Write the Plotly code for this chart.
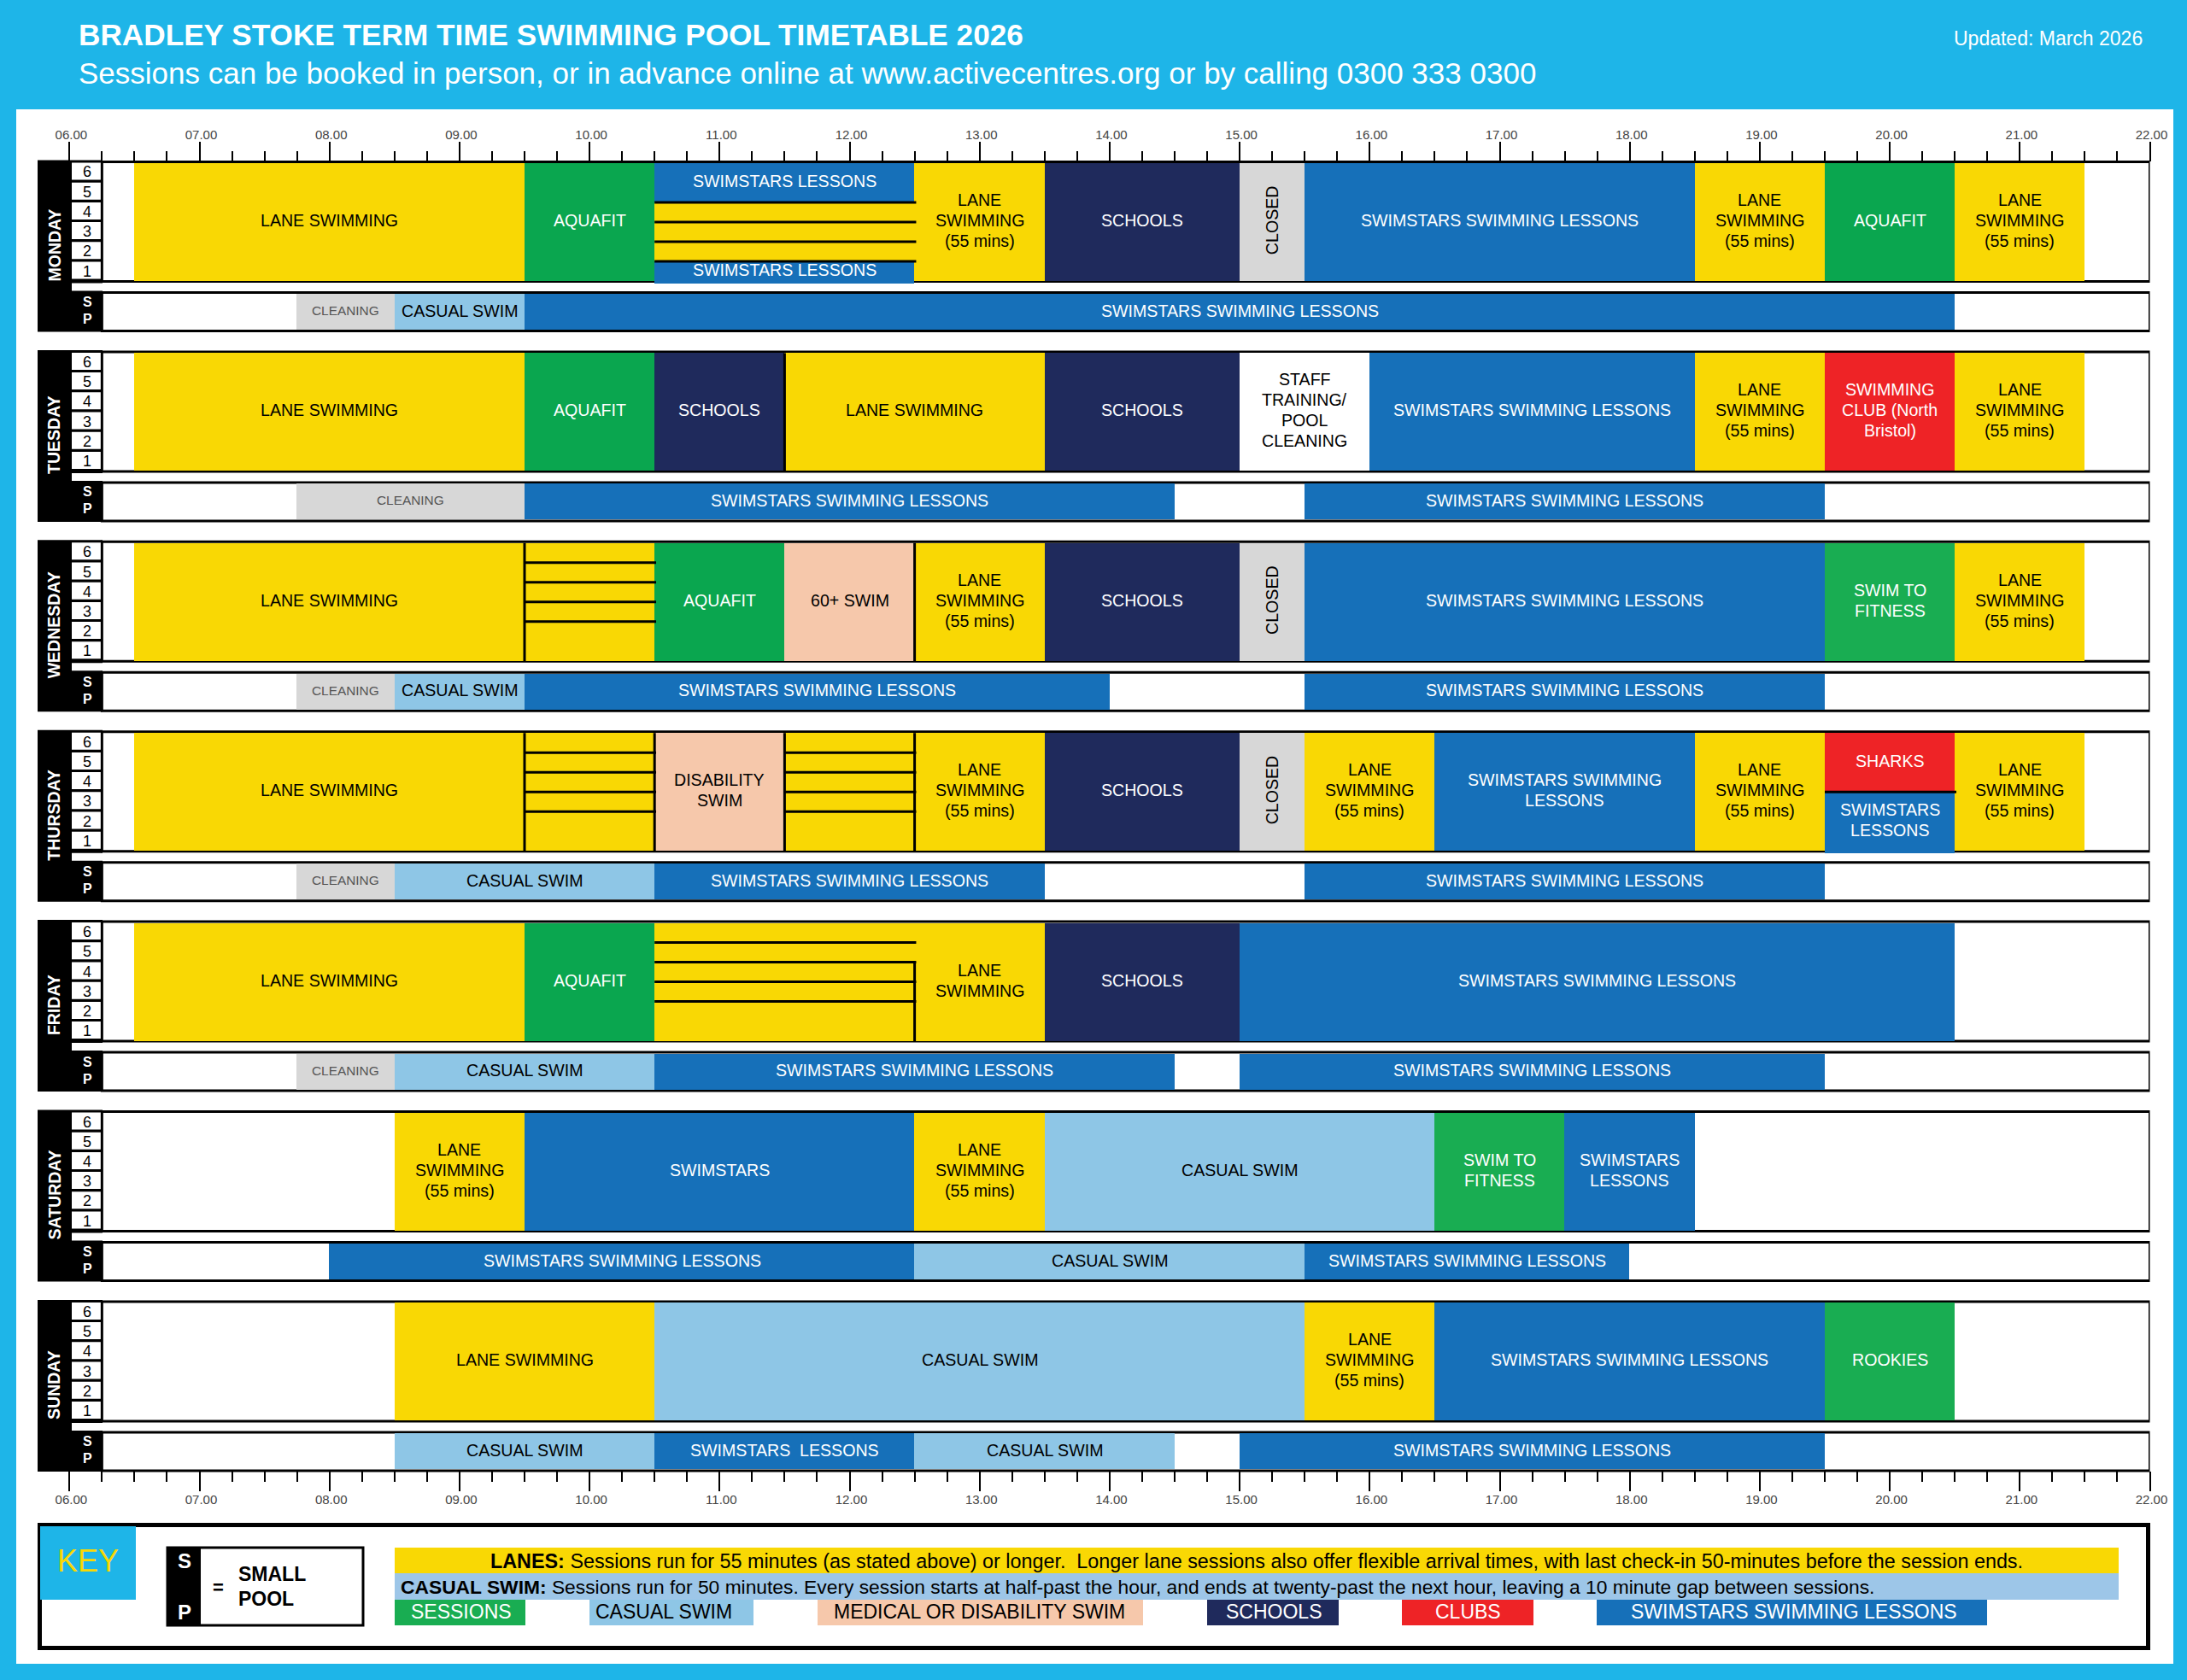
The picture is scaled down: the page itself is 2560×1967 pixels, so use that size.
"""Bradley Stoke term time swimming pool timetable, drawn with Plotly."""
from plotly.graph_objects import Bar, Figure

FONT = "Liberation Sans"

# ---- data : (start hour, end hour, kind, label, [first lane, last lane])
MON_MAIN = [
    (6.5, 9.5, "lane", "LANE SWIMMING"),
    (9.5, 10.5, "aqua", "AQUAFIT"),
    (10.5, 12.5, "lessons", "SWIMSTARS LESSONS", 6, 5),
    (10.5, 12.5, "lane", "", 4, 2),
    (10.5, 12.5, "lessons", "SWIMSTARS LESSONS", 1, 1),
    (12.5, 13.5, "lane", "LANE<br>SWIMMING<br>(55 mins)"),
    (13.5, 15, "schools", "SCHOOLS"),
    (15, 15.5, "closed", "CLOSED"),
    (15.5, 18.5, "lessons", "SWIMSTARS SWIMMING LESSONS"),
    (18.5, 19.5, "lane", "LANE<br>SWIMMING<br>(55 mins)"),
    (19.5, 20.5, "aqua", "AQUAFIT"),
    (20.5, 21.5, "lane", "LANE<br>SWIMMING<br>(55 mins)"),
]
MON_SMALL = [
    (7.75, 8.5, "closed", "CLEANING"),
    (8.5, 9.5, "casual", "CASUAL SWIM"),
    (9.5, 20.5, "lessons", "SWIMSTARS SWIMMING LESSONS"),
]
TUE_MAIN = [
    (6.5, 9.5, "lane", "LANE SWIMMING"),
    (9.5, 10.5, "aqua", "AQUAFIT"),
    (10.5, 11.5, "schools", "SCHOOLS"),
    (11.5, 13.5, "lane", "LANE SWIMMING"),
    (13.5, 15, "schools", "SCHOOLS"),
    (15, 16, "blank", "STAFF<br>TRAINING/<br>POOL<br>CLEANING"),
    (16, 18.5, "lessons", "SWIMSTARS SWIMMING LESSONS"),
    (18.5, 19.5, "lane", "LANE<br>SWIMMING<br>(55 mins)"),
    (19.5, 20.5, "clubs", "SWIMMING<br>CLUB (North<br>Bristol)"),
    (20.5, 21.5, "lane", "LANE<br>SWIMMING<br>(55 mins)"),
]
TUE_SMALL = [
    (7.75, 9.5, "closed", "CLEANING"),
    (9.5, 14.5, "lessons", "SWIMSTARS SWIMMING LESSONS"),
    (15.5, 19.5, "lessons", "SWIMSTARS SWIMMING LESSONS"),
]
WED_MAIN = [
    (6.5, 9.5, "lane", "LANE SWIMMING"),
    (9.5, 10.5, "lane", ""),
    (10.5, 11.5, "aqua", "AQUAFIT"),
    (11.5, 12.5, "medical", "60+ SWIM"),
    (12.5, 13.5, "lane", "LANE<br>SWIMMING<br>(55 mins)"),
    (13.5, 15, "schools", "SCHOOLS"),
    (15, 15.5, "closed", "CLOSED"),
    (15.5, 19.5, "lessons", "SWIMSTARS SWIMMING LESSONS"),
    (19.5, 20.5, "sessions", "SWIM TO<br>FITNESS"),
    (20.5, 21.5, "lane", "LANE<br>SWIMMING<br>(55 mins)"),
]
WED_SMALL = [
    (7.75, 8.5, "closed", "CLEANING"),
    (8.5, 9.5, "casual", "CASUAL SWIM"),
    (9.5, 14, "lessons", "SWIMSTARS SWIMMING LESSONS"),
    (15.5, 19.5, "lessons", "SWIMSTARS SWIMMING LESSONS"),
]
THU_MAIN = [
    (6.5, 9.5, "lane", "LANE SWIMMING"),
    (9.5, 10.5, "lane", ""),
    (10.5, 11.5, "medical", "DISABILITY<br>SWIM"),
    (11.5, 12.5, "lane", ""),
    (12.5, 13.5, "lane", "LANE<br>SWIMMING<br>(55 mins)"),
    (13.5, 15, "schools", "SCHOOLS"),
    (15, 15.5, "closed", "CLOSED"),
    (15.5, 16.5, "lane", "LANE<br>SWIMMING<br>(55 mins)"),
    (16.5, 18.5, "lessons", "SWIMSTARS SWIMMING<br>LESSONS"),
    (18.5, 19.5, "lane", "LANE<br>SWIMMING<br>(55 mins)"),
    (19.5, 20.5, "clubs", "SHARKS", 6, 4),
    (19.5, 20.5, "lessons", "SWIMSTARS<br>LESSONS", 3, 1),
    (20.5, 21.5, "lane", "LANE<br>SWIMMING<br>(55 mins)"),
]
THU_SMALL = [
    (7.75, 8.5, "closed", "CLEANING"),
    (8.5, 10.5, "casual", "CASUAL SWIM"),
    (10.5, 13.5, "lessons", "SWIMSTARS SWIMMING LESSONS"),
    (15.5, 19.5, "lessons", "SWIMSTARS SWIMMING LESSONS"),
]
FRI_MAIN = [
    (6.5, 9.5, "lane", "LANE SWIMMING"),
    (9.5, 10.5, "aqua", "AQUAFIT"),
    (10.5, 12.5, "lane", ""),
    (12.5, 13.5, "lane", "LANE<br>SWIMMING"),
    (13.5, 15, "schools", "SCHOOLS"),
    (15, 20.5, "lessons", "SWIMSTARS SWIMMING LESSONS"),
]
FRI_SMALL = [
    (7.75, 8.5, "closed", "CLEANING"),
    (8.5, 10.5, "casual", "CASUAL SWIM"),
    (10.5, 14.5, "lessons", "SWIMSTARS SWIMMING LESSONS"),
    (15, 19.5, "lessons", "SWIMSTARS SWIMMING LESSONS"),
]
SAT_MAIN = [
    (8.5, 9.5, "lane", "LANE<br>SWIMMING<br>(55 mins)"),
    (9.5, 12.5, "lessons", "SWIMSTARS"),
    (12.5, 13.5, "lane", "LANE<br>SWIMMING<br>(55 mins)"),
    (13.5, 16.5, "casual", "CASUAL SWIM"),
    (16.5, 17.5, "sessions", "SWIM TO<br>FITNESS"),
    (17.5, 18.5, "lessons", "SWIMSTARS<br>LESSONS"),
]
SAT_SMALL = [
    (8, 12.5, "lessons", "SWIMSTARS SWIMMING LESSONS"),
    (12.5, 15.5, "casual", "CASUAL SWIM"),
    (15.5, 18, "lessons", "SWIMSTARS SWIMMING LESSONS"),
]
SUN_MAIN = [
    (8.5, 10.5, "lane", "LANE SWIMMING"),
    (10.5, 15.5, "casual", "CASUAL SWIM"),
    (15.5, 16.5, "lane", "LANE<br>SWIMMING<br>(55 mins)"),
    (16.5, 19.5, "lessons", "SWIMSTARS SWIMMING LESSONS"),
    (19.5, 20.5, "sessions", "ROOKIES"),
]
SUN_SMALL = [
    (8.5, 10.5, "casual", "CASUAL SWIM"),
    (10.5, 12.5, "lessons", "SWIMSTARS  LESSONS"),
    (12.5, 14.5, "casual", "CASUAL SWIM"),
    (15, 19.5, "lessons", "SWIMSTARS SWIMMING LESSONS"),
]

DAYS = ["MONDAY", "TUESDAY", "WEDNESDAY", "THURSDAY", "FRIDAY", "SATURDAY", "SUNDAY"]
MAIN_POOL = [MON_MAIN, TUE_MAIN, WED_MAIN, THU_MAIN, FRI_MAIN, SAT_MAIN, SUN_MAIN]
SMALL_POOL = [MON_SMALL, TUE_SMALL, WED_SMALL, THU_SMALL, FRI_SMALL, SAT_SMALL, SUN_SMALL]
LANES = [6, 5, 4, 3, 2, 1]

# lane lines : (day index, start, end, lane under the first line, lane under the last line)
LANE_LINES = [
    (0, 10.5, 12.5, 4, 1),
    (2, 9.5, 10.5, 5, 2),
    (3, 9.5, 10.5, 5, 2),
    (3, 11.5, 12.5, 5, 2),
    (4, 10.5, 12.5, 5, 2),
    (3, 19.5, 20.5, 3, 3),
]
# vertical lines : (day index, hour, lane where the line starts)
SPLIT_LINES = [(1, 11.5, 6), (2, 9.5, 6), (2, 12.5, 6), (3, 9.5, 6), (3, 10.5, 6),
               (3, 11.5, 6), (3, 12.5, 6), (4, 12.5, 4)]

HOUR_TICKS = list(range(6, 23))
HOUR_LABELS = [f"{h:02d}.00" for h in HOUR_TICKS]

COLOURS = {
    "lane": "#F9D804",
    "aqua": "#0AA64F",
    "sessions": "#19AD52",
    "lessons": "#1670B9",
    "schools": "#1F2A5C",
    "casual": "#8EC6E6",
    "medical": "#F6C8AB",
    "clubs": "#EE2326",
    "closed": "#D7D7D7",
    "blank": "#FFFFFF",
}
TEXT_COLOURS = {
    "lane": "#000000", "casual": "#000000", "medical": "#000000", "blank": "#000000",
    "closed": "#000000",
}
BLUE = "#1EB5E8"

KEY_SWATCHES = [
    ("sessions", "SESSIONS", 462, 615, 540),
    ("casual", "CASUAL SWIM", 690, 882, 777),
    ("medical", "MEDICAL OR DISABILITY SWIM", 957, 1338, 1146),
    ("schools", "SCHOOLS", 1413, 1567, 1491),
    ("clubs", "CLUBS", 1641, 1795, 1718),
    ("lessons", "SWIMSTARS SWIMMING LESSONS", 1869, 2326, 2100),
]

# ---- layout constants, page pixels
W, H = 2560, 1967
X6, X22 = 81.3, 2516.5
DAY_TOP = 189.5
DAY_STEP = 222.4
POOL_H = 140
SMALL_TOP = 153
SMALL_H = 45
LANE_H = 23

fig = Figure()
shapes = []
notes = []


def px_x(v):
    return v / W


def px_y(v):
    return 1 - v / H


def page_rect(x0, y0, x1, y1, fill, line=None, width=0, layer="below"):
    shapes.append(dict(type="rect", xref="paper", yref="paper", layer=layer,
                       x0=px_x(x0), x1=px_x(x1), y0=px_y(y0), y1=px_y(y1),
                       fillcolor=fill, line=dict(color=line or fill, width=width)))


def page_text(x, y, text, size, color="#000000", bold=False, anchor="center", angle=0):
    if bold:
        text = f"<b>{text}</b>"
    notes.append(dict(xref="paper", yref="paper", x=px_x(x), y=px_y(y), text=text,
                      showarrow=False, xanchor=anchor, yanchor="middle", textangle=angle,
                      font=dict(family=FONT, size=size, color=color)))


def session_text(start, end, kind, label, mid, size=19.6):
    """One annotation per line so the line spacing stays at 24 px."""
    col = TEXT_COLOURS.get(kind, "#FFFFFF")
    if kind == "closed" and label == "CLOSED":
        notes.append(dict(xref="x", yref="y", x=(start + end) / 2, y=mid, text=label, showarrow=False,
                          textangle=-90, font=dict(family=FONT, size=size, color=col)))
        return
    if label == "CLEANING":
        size, col = 15.4, "#555555"
    rows = label.split("<br>")
    for i, row in enumerate(rows):
        notes.append(dict(xref="x", yref="y", x=(start + end) / 2, y=mid + (i - (len(rows) - 1) / 2) * 24,
                          text=row, showarrow=False, yanchor="middle",
                          font=dict(family=FONT, size=size, color=col)))


# page background and panel
page_rect(19, 128, 2544, 1948, "#FFFFFF")

bars = {}
for d, (main, small) in enumerate(zip(MAIN_POOL, SMALL_POOL)):
    top = DAY_TOP + d * DAY_STEP
    for item in main:
        start, end, kind, label = item[:4]
        first, last = item[4:] if len(item) > 4 else (6, 1)
        y0 = top + 1.5 + (6 - first) * LANE_H
        y1 = top + 1.5 + (7 - last) * LANE_H
        # partial blue blocks run over the bottom frame line in the original
        if last == 1 and first != 6:
            y1 += 3
        bars.setdefault(kind, []).append((start, end, (y0 + y1) / 2, y1 - y0))
        if label:
            session_text(start, end, kind, label, top + 1.5 + (6 - first + 7 - last) * LANE_H / 2 - 2)
    stop = top + SMALL_TOP
    for start, end, kind, label in small:
        bars.setdefault(kind, []).append((start, end, stop + SMALL_H / 2, SMALL_H - 3))
        session_text(start, end, kind, label, stop + SMALL_H / 2 - 1.5)

for kind, rows in bars.items():
    fig.add_trace(Bar(
        orientation="h",
        base=[r[0] for r in rows],
        x=[r[1] - r[0] for r in rows],
        y=[r[2] for r in rows],
        width=[r[3] for r in rows],
        marker=dict(color=COLOURS[kind], line=dict(width=0)),
        showlegend=False,
        hoverinfo="skip",
    ))

for d, day in enumerate(DAYS):
    top = DAY_TOP + d * DAY_STEP
    # black column with the day name and lane cells
    page_rect(44, top - 2, 84, top + 199, "#000000")
    page_rect(84, top + 151, 120, top + 199, "#000000")
    page_rect(84, top - 2, 120, top + 142, "#000000")
    page_text(63, top + 98, day, 19.5, "#FFFFFF", bold=True, angle=-90)
    page_text(102, top + 164, "S", 16, "#FFFFFF", bold=True)
    page_text(102, top + 184, "P", 16, "#FFFFFF", bold=True)
    for i, lane in enumerate(LANES):
        cell = top + i * 23.2
        page_rect(84, cell + 1, 119, cell + 21, "#FFFFFF")
        page_text(102, cell + 12, str(lane), 18)
    # frames of both pools, the bars sit inside their inner edge
    for y0, y1 in ((top, top + POOL_H), (top + SMALL_TOP, top + SMALL_TOP + SMALL_H)):
        shapes.append(dict(type="rect", xref="x", yref="y", layer="below",
                           x0=6.25, x1=22, y0=y0, y1=y1,
                           line=dict(color="#000000", width=3)))

for d, start, end, first, last in LANE_LINES:
    top = DAY_TOP + d * DAY_STEP
    for lane in range(first, last - 1, -1):
        y = top + 1.5 + (6 - lane) * LANE_H
        shapes.append(dict(type="line", xref="x", yref="y", x0=start, x1=end + 0.012, y0=y, y1=y,
                           line=dict(color="#000000", width=3), layer="above"))

for d, hour, lane in SPLIT_LINES:
    top = DAY_TOP + d * DAY_STEP
    shapes.append(dict(type="line", xref="x", yref="y", x0=hour, x1=hour,
                       y0=top + 1.5 + (6 - lane) * LANE_H, y1=top + POOL_H,
                       line=dict(color="#000000", width=3), layer="above"))

# titles
page_text(89.5, 40, "BRADLEY STOKE TERM TIME SWIMMING POOL TIMETABLE 2026", 35.2, "#FFFFFF", bold=True, anchor="left")
page_text(89.5, 85, "Sessions can be booked in person, or in advance online at www.activecentres.org or by calling 0300 333 0300",
          35, "#FFFFFF", anchor="left")
page_text(2510, 45, "Updated: March 2026", 23, "#FFFFFF", anchor="right")

# key
page_rect(46.5, 1785.5, 2514.5, 1929.5, "#FFFFFF", "#000000", 5)
page_rect(47, 1787, 159, 1873, BLUE)
page_text(103, 1827, "KEY", 36, "#F9D804")
page_rect(196, 1812, 425, 1903, "#FFFFFF", "#000000", 3)
page_rect(196, 1812, 235, 1903, "#000000")
page_text(216, 1827, "S", 24, "#FFFFFF", bold=True)
page_text(216, 1887, "P", 24, "#FFFFFF", bold=True)
page_text(255, 1858, "=", 22, "#000000", bold=True)
page_text(277, 1843, "SMALL", 23, "#000000", bold=True, anchor="left")
page_text(277, 1872, "POOL", 23, "#000000", bold=True, anchor="left")
page_rect(462, 1812, 2480, 1842, COLOURS["lane"])
page_rect(462, 1842, 2480, 1873, "#9DC6E8")
page_text(572, 1828, "<b>LANES:</b> Sessions run for 55 minutes (as stated above) or longer.  Longer lane sessions also offer flexible arrival times, with last check-in 50-minutes before the session ends.",
          23.35, anchor="left")
page_text(467, 1858, "<b>CASUAL SWIM:</b> Sessions run for 50 minutes. Every session starts at half-past the hour, and ends at twenty-past the next hour, leaving a 10 minute gap between sessions.",
          22.8, anchor="left")
for kind, label, x0, x1, mid in KEY_SWATCHES:
    page_rect(x0, 1873, x1, 1903, COLOURS[kind])
    page_text(mid, 1887, label, 23, TEXT_COLOURS.get(kind, "#FFFFFF"))

axis_common = dict(
    type="linear",
    range=[6, 22],
    domain=[X6 / W, X22 / W],
    tickmode="array",
    tickvals=HOUR_TICKS,
    ticktext=HOUR_LABELS,
    ticks="outside",
    ticklen=23,
    tickwidth=2,
    tickcolor="#000000",
    minor=dict(dtick=0.25, tick0=6, ticks="outside", ticklen=12, tickwidth=2, tickcolor="#000000"),
    showgrid=False,
    zeroline=False,
    showline=False,
    ticklabelshift=2,
    ticklabelstandoff=-3,
    tickfont=dict(family=FONT, size=15, color="#444444"),
    anchor="free",
)

fig.update_layout(
    width=W,
    height=H,
    margin=dict(l=0, r=0, t=0, b=0, autoexpand=False),
    paper_bgcolor=BLUE,
    plot_bgcolor="rgba(0,0,0,0)",
    showlegend=False,
    barmode="overlay",
    bargap=0,
    xaxis=dict(axis_common, side="top", position=px_y(DAY_TOP - 1)),
    xaxis2=dict(axis_common, side="bottom", position=px_y(1722), overlaying="x"),
    yaxis=dict(range=[H, 0], domain=[0, 1], visible=False, fixedrange=True),
    shapes=shapes,
    annotations=notes,
)
# empty trace so the bottom axis shows
fig.add_trace(Bar(x=[], y=[], xaxis="x2", showlegend=False))

fig.write_html("out.html", config={"displayModeBar": False},
               post_script="document.body.style.margin = '0';")
